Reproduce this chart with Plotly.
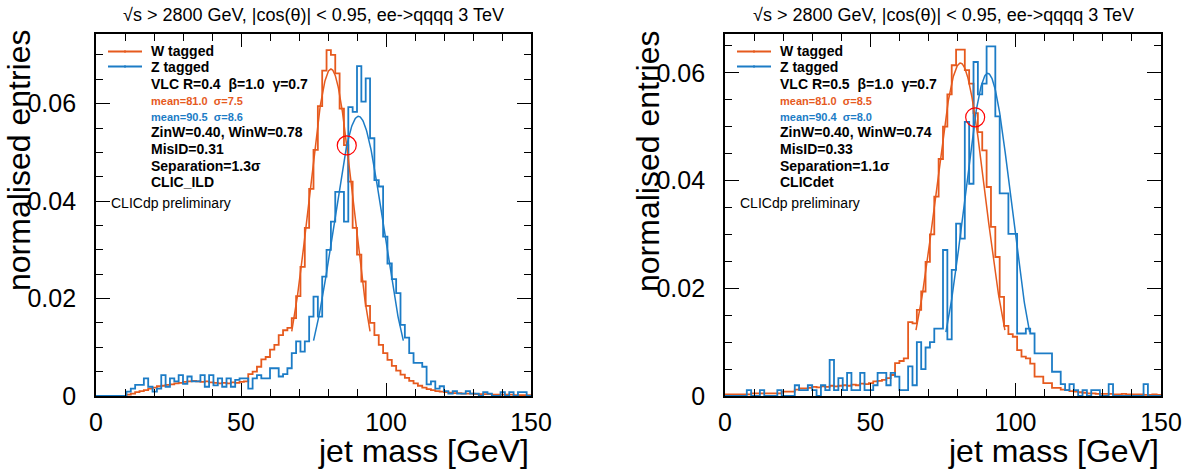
import numpy as np
import plotly.graph_objects as go

W, H = 1198, 470
bin_width = 1.5  # GeV

# ---------------- data (normalised entries per 1.5 GeV bin, 0-150 GeV) ----------------
w1 = [0, 0, 0, 0, 0, 0, 0, 0.0003, 0.0005, 0.0008,
      0.0010, 0.0012, 0.0015, 0.0017, 0.0020, 0.0021, 0.0023, 0.0024, 0.0026, 0.0027,
      0.0029, 0.0030, 0.0031, 0.0030, 0.0029, 0.0030, 0.0028, 0.0027, 0.0026, 0.0027,
      0.0026, 0.0028, 0.0027, 0.0029, 0.0030, 0.0045, 0.0050, 0.0060, 0.0075, 0.0080,
      0.0095, 0.0105, 0.0125, 0.0135, 0.0140, 0.0160, 0.0205, 0.0265, 0.0345, 0.0425,
      0.0505, 0.0595, 0.0668, 0.0710, 0.0700, 0.0662, 0.0590, 0.0515, 0.0440, 0.0345,
      0.0290, 0.0235, 0.0185, 0.0150, 0.0125, 0.0105, 0.0088, 0.0074, 0.0062, 0.0052,
      0.0044, 0.0037, 0.0031, 0.0026, 0.0021, 0.0017, 0.0014, 0.0012, 0.0010, 0.0009,
      0.0008, 0.0007, 0.0006, 0.0006, 0.0005, 0.0005, 0.0005, 0.0004, 0.0004, 0.0004,
      0.0004, 0.0003, 0.0003, 0.0003, 0.0003, 0.0003, 0.0002, 0.0002, 0.0002, 0.0002]

z1 = [0, 0, 0, 0, 0, 0, 0, 0.0009, 0.0015, 0.0023,
      0.0023, 0.0036, 0.0019, 0.0009, 0.0015, 0.0043, 0.0019, 0.0036, 0.0030, 0.0043,
      0.0025, 0.0040, 0.0030, 0.0030, 0.0043, 0.0019, 0.0043, 0.0022, 0.0036, 0.0019,
      0.0036, 0.0019, 0.0033, 0.0036, 0.0036, 0.0015, 0.0036, 0.0043, 0.0036, 0.0036,
      0.0057, 0.0057, 0.0040, 0.0045, 0.0057, 0.0088, 0.0112, 0.0091, 0.0112, 0.0163,
      0.0204, 0.0163, 0.0245, 0.0300, 0.0358, 0.0419, 0.0419, 0.0358, 0.0593, 0.0583,
      0.0677, 0.0604, 0.0652, 0.0529, 0.0443, 0.0430, 0.0327, 0.0272, 0.0240, 0.0211,
      0.0146, 0.0120, 0.0088, 0.0068, 0.0068, 0.0060, 0.0024, 0.0030, 0.0015, 0.0020,
      0.0010, 0.0005, 0.0010, 0.0005, 0.0005, 0.0010, 0.0005, 0.0005, 0.0000, 0.0008,
      0.0005, 0.0000, 0.0000, 0.0008, 0.0000, 0.0008, 0.0000, 0.0008, 0.0008, 0.0000]

w2 = [0.0003, 0.0003, 0.0003, 0.0003, 0.0003, 0.0003, 0.0005, 0.0005, 0.0005, 0.0005,
      0.0005, 0.0005, 0.0005, 0.0008, 0.0008, 0.0008, 0.0012, 0.0014, 0.0014, 0.0015,
      0.0017, 0.0016, 0.0018, 0.0017, 0.0019, 0.0018, 0.0019, 0.0020, 0.0019, 0.0021,
      0.0020, 0.0023, 0.0022, 0.0024, 0.0027, 0.0028, 0.0030, 0.0033, 0.0039, 0.0061,
      0.0065, 0.0070, 0.0137, 0.0135, 0.0160, 0.0194, 0.0249, 0.0300, 0.0370, 0.0440,
      0.0500, 0.0560, 0.0614, 0.0643, 0.0643, 0.0605, 0.0580, 0.0525, 0.0490, 0.0456,
      0.0388, 0.0314, 0.0258, 0.0184, 0.0130, 0.0115, 0.0110, 0.0085, 0.0073, 0.0070,
      0.0060, 0.0036, 0.0036, 0.0024, 0.0024, 0.0015, 0.0015, 0.0012, 0.0011, 0.0009,
      0.0008, 0.0007, 0.0006, 0.0005, 0.0005, 0.0004, 0.0004, 0.0004, 0.0004, 0.0003,
      0.0003, 0.0004, 0.0003, 0.0003, 0.0003, 0.0003, 0.0002, 0.0002, 0.0003, 0.0002]

z2 = [0, 0, 0, 0, 0, 0.0011, 0, 0, 0.0011, 0,
      0, 0, 0.0011, 0, 0, 0, 0.0020, 0.0011, 0.0011, 0.0020,
      0.0011, 0, 0.0020, 0.0011, 0.0067, 0.0011, 0.0033, 0.0011, 0.0043, 0.0011,
      0.0011, 0.0043, 0.0011, 0.0011, 0.0020, 0.0043, 0.0043, 0.0020, 0.0043, 0.0036,
      0.0011, 0.0011, 0.0055, 0.0020, 0.0100, 0.0050, 0.0090, 0.0100, 0.0125, 0.0125,
      0.0271, 0.0105, 0.0234, 0.0320, 0.0292, 0.0509, 0.0394, 0.0620, 0.0560, 0.0580,
      0.0649, 0.0649, 0.0519, 0.0376, 0.0376, 0.0301, 0.0301, 0.0116, 0.0116, 0.0125,
      0.0116, 0.0079, 0.0079, 0.0079, 0.0079, 0.0045, 0.0045, 0.0022, 0.0011, 0.0022,
      0.0011, 0, 0.0011, 0, 0.0011, 0.0011, 0, 0, 0.0022, 0,
      0, 0, 0, 0, 0, 0, 0.0022, 0, 0, 0]

# Gaussian fit parameters (amplitude, mean, sigma), fitted over mean +- 1.8 sigma
fit_w = [(0.0671, 81.0, 7.5), (0.0618, 81.0, 8.5)]
fit_z = [(0.0574, 90.5, 8.6), (0.0599, 90.4, 8.0)]
fit_range_sigma = 1.8

title_text = "√s > 2800 GeV, |cos(θ)| < 0.95, ee->qqqq 3 TeV"
vlc_text = ["VLC R=0.4\u00a0\u00a0β=1.0\u00a0\u00a0γ=0.7", "VLC R=0.5\u00a0\u00a0β=1.0\u00a0\u00a0γ=0.7"]
zw_text = ["ZinW=0.40, WinW=0.78", "ZinW=0.40, WinW=0.74"]
misid_text = ["MisID=0.31", "MisID=0.33"]
sep_text = ["Separation=1.3σ", "Separation=1.1σ"]
det_text = ["CLIC_ILD", "CLICdet"]
y_max = [0.0743, 0.0672]
x_ticks = [0, 50, 100, 150]
y_ticks = [0, 0.02, 0.04, 0.06]
y_ticktext = ["0", "0.02", "0.04", "0.06"]

ORANGE = "#E65A1E"
BLUE = "#1C7CC6"
FONT = "Liberation Sans"

# ---------------- layout geometry (pixels) ----------------
frames = [(96, 531), (725, 1161)]
frame_top, frame_bot = 34, 396


def px(x):
    return x / W


def py(y):
    return 1 - y / H


fig = go.Figure()
annotations = []
shapes = []
layout_axes = {}

for i, (wv, zv) in enumerate([(w1, z1), (w2, z2)]):
    n = 2 * i + 1  # main axes index, overlay (top/right) axes index n+1
    xa = "x" if n == 1 else "x%d" % n
    ya = "y" if n == 1 else "y%d" % n
    edges = bin_width * np.arange(len(wv) + 1)
    for vals, col in [(wv, ORANGE), (zv, BLUE)]:
        fig.add_trace(go.Scatter(x=edges, y=list(vals) + [vals[-1]], mode="lines",
                                 line=dict(color=col, width=1.8, shape="hv"),
                                 xaxis=xa, yaxis=ya, showlegend=False, hoverinfo="skip"))
    for (A, m, s), col in [(fit_w[i], ORANGE), (fit_z[i], BLUE)]:
        xs = np.linspace(m - fit_range_sigma * s, m + fit_range_sigma * s, 200)
        ys = A * np.exp(-0.5 * ((xs - m) / s) ** 2)
        fig.add_trace(go.Scatter(x=xs, y=ys, mode="lines", line=dict(color=col, width=1.5),
                                 xaxis=xa, yaxis=ya, showlegend=False, hoverinfo="skip"))
    # crossing point of the two fitted Gaussians
    (A1, m1, s1), (A2, m2, s2) = fit_w[i], fit_z[i]
    g = np.linspace(m1, m2, 4001)
    d = np.abs(A1 * np.exp(-0.5 * ((g - m1) / s1) ** 2) - A2 * np.exp(-0.5 * ((g - m2) / s2) ** 2))
    xc = g[np.argmin(d)]
    yc = A1 * np.exp(-0.5 * ((xc - m1) / s1) ** 2)
    fig.add_trace(go.Scatter(x=[xc], y=[yc], mode="markers",
                             marker=dict(symbol="circle-open", size=19, color="#FF0000",
                                         line=dict(width=1.2, color="#FF0000")),
                             xaxis=xa, yaxis=ya, showlegend=False, hoverinfo="skip"))

    x0, x1 = frames[i]
    xdom = [px(x0), px(x1)]
    ydom = [py(frame_bot), py(frame_top)]
    common = dict(ticks="inside", tickwidth=1.2, tickcolor="black", showgrid=False,
                  zeroline=False, automargin=False)
    ax = dict(domain=xdom, range=[0, 150], tickmode="array", tickvals=x_ticks, ticklen=13,
              minor=dict(tickmode="linear", tick0=0, dtick=10, ticks="inside", ticklen=7,
                         tickwidth=1.2, tickcolor="black"),
              showline=True, linecolor="black", linewidth=1.8, mirror=True,
              tickfont=dict(family=FONT, size=25, color="black"),
              ticklabelstandoff=3, anchor=ya, **common)
    ay = dict(domain=ydom, range=[0, y_max[i]], tickmode="array",
              tickvals=y_ticks, ticktext=y_ticktext, ticklen=14,
              minor=dict(tickmode="linear", tick0=0, dtick=0.005, ticks="inside", ticklen=7,
                         tickwidth=1.2, tickcolor="black"),
              showline=True, linecolor="black", linewidth=1.8, mirror=True,
              tickfont=dict(family=FONT, size=25, color="black"),
              ticklabelstandoff=13, anchor=xa, **common)
    # overlay axes giving the inside ticks on the top and right frame edges
    ax_top = dict(domain=xdom, range=[0, 150], tickmode="array", tickvals=x_ticks, ticklen=13,
                  minor=dict(tickmode="linear", tick0=0, dtick=10, ticks="inside", ticklen=7,
                             tickwidth=1.2, tickcolor="black"),
                  showticklabels=False, overlaying=xa, side="top", anchor=ya,
                  showline=False, **common)
    ay_right = dict(domain=ydom, range=[0, y_max[i]], tickmode="array", tickvals=y_ticks,
                    ticklen=14,
                    minor=dict(tickmode="linear", tick0=0, dtick=0.005, ticks="inside",
                               ticklen=7, tickwidth=1.2, tickcolor="black"),
                    showticklabels=False, overlaying=ya, side="right", anchor=xa,
                    showline=False, **common)
    k = "" if n == 1 else str(n)
    layout_axes["xaxis" + k] = ax
    layout_axes["yaxis" + k] = ay
    layout_axes["xaxis%d" % (n + 1)] = ax_top
    layout_axes["yaxis%d" % (n + 1)] = ay_right
    # invisible trace so the overlay axes get drawn
    fig.add_trace(go.Scatter(x=[0], y=[0], mode="markers", marker=dict(opacity=0),
                             xaxis="x%d" % (n + 1), yaxis="y%d" % (n + 1),
                             showlegend=False, hoverinfo="skip"))

    # title
    annotations.append(dict(x=px((x0 + x1) / 2), y=py(15), xref="paper", yref="paper",
                            text=title_text, showarrow=False, xanchor="center", yanchor="middle",
                            font=dict(family=FONT, size=18, color="black")))
    # axis titles
    annotations.append(dict(x=px(x0 - 77), y=py(161), xref="paper", yref="paper",
                            text="normalised entries", textangle=-90, showarrow=False,
                            xanchor="center", yanchor="middle",
                            font=dict(family=FONT, size=32, color="black")))
    annotations.append(dict(x=px(x1), y=py(451), xref="paper", yref="paper",
                            text="jet mass [GeV]", showarrow=False,
                            xanchor="right", yanchor="middle",
                            font=dict(family=FONT, size=32, color="black")))
    # legend / info box
    tx = x0 + 53
    legend_rows = [("W tagged", 51, 14, "black"), ("Z tagged", 67, 14, "black"),
                   (vlc_text[i], 84, 14, "black"),
                   ("mean=%.1f\u00a0\u00a0σ=%.1f" % (fit_w[i][1], fit_w[i][2]), 101, 11, ORANGE),
                   ("mean=%.1f\u00a0\u00a0σ=%.1f" % (fit_z[i][1], fit_z[i][2]), 117, 11, BLUE),
                   (zw_text[i], 132, 14, "black"),
                   (misid_text[i], 149, 14, "black"),
                   (sep_text[i], 166, 14, "black"),
                   (det_text[i], 182, 14, "black")]
    for txt, yy, fs, col in legend_rows:
        annotations.append(dict(x=px(tx), y=py(yy), xref="paper", yref="paper",
                                text="<b>%s</b>" % txt,
                                showarrow=False, xanchor="left", yanchor="middle",
                                font=dict(family=FONT, size=fs, color=col)))
    annotations.append(dict(x=px(x0 + 13), y=py(203), xref="paper", yref="paper",
                            text="CLICdp preliminary", showarrow=False, xanchor="left",
                            yanchor="middle", font=dict(family=FONT, size=14, color="black")))
    for yy, col in [(51.5, ORANGE), (66.5, BLUE)]:
        shapes.append(dict(type="line", xref="paper", yref="paper", x0=px(x0 + 12), x1=px(x0 + 46),
                           y0=py(yy), y1=py(yy), line=dict(color=col, width=1.8)))
        shapes.append(dict(type="line", xref="paper", yref="paper", x0=px(x0 + 29), x1=px(x0 + 29),
                           y0=py(yy - 1.5), y1=py(yy + 1.5), line=dict(color=col, width=1)))

fig.update_layout(width=W, height=H, margin=dict(l=0, r=0, t=0, b=0, autoexpand=False),
                  paper_bgcolor="white", plot_bgcolor="white",
                  annotations=annotations, shapes=shapes, showlegend=False, **layout_axes)

fig.write_html("out.html")
